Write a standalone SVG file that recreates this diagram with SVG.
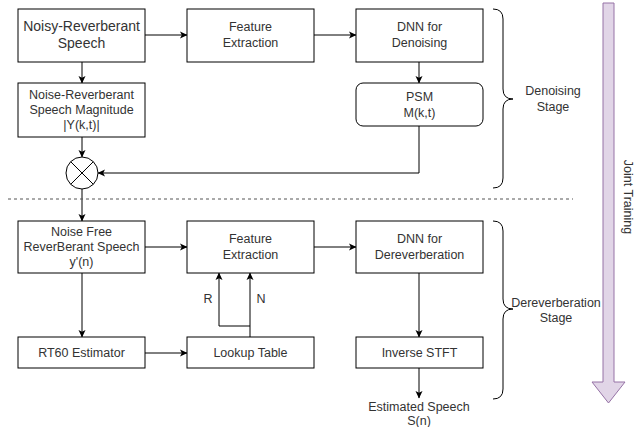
<svg xmlns="http://www.w3.org/2000/svg" width="643" height="427" viewBox="0 0 643 427">
<defs>
<marker id="arr" markerWidth="8" markerHeight="8" refX="7" refY="4" orient="auto" markerUnits="userSpaceOnUse">
<path d="M0,0.5 L7.5,4 L0,7.5 L1.8,4 Z" fill="#000"/>
</marker>
<style>
.box{fill:#fff;stroke:#000;stroke-width:1}
.t{font-family:"Liberation Sans",Arial,sans-serif;font-size:12.5px;fill:#333;text-anchor:middle}
.big{font-size:14px}
.c{fill:none;stroke:#000;stroke-width:1}
.ca{fill:none;stroke:#000;stroke-width:1;marker-end:url(#arr)}
</style>
</defs>
<rect width="643" height="427" fill="#fff"/>

<g id="connectors">
<path class="ca" d="M145,35 L187,35"/>
<path class="ca" d="M314,35 L356,35"/>
<path class="ca" d="M82,62 L82,83"/>
<path class="ca" d="M419,62 L419,83"/>
<path class="ca" d="M82,137 L82,157"/>
<path class="ca" d="M419,126 L419,173 L98,173"/>
<path class="ca" d="M82,189 L82,221"/>
<path class="ca" d="M145,247 L187,247"/>
<path class="ca" d="M314,247 L356,247"/>
<path class="ca" d="M82,273 L82,337"/>
<path class="ca" d="M145,353 L187,353"/>
<path class="ca" d="M250,337 L250,273"/>
<path class="ca" d="M250,326 L219,326 L219,273"/>
<path class="ca" d="M419,273 L419,337"/>
<path class="ca" d="M419,368 L419,398"/>
<text class="t" x="208" y="303">R</text>
<text class="t" x="261" y="303">N</text>
</g>

<g id="divider">
<line x1="8" y1="199" x2="573" y2="199" stroke="#555" stroke-width="1" stroke-dasharray="3,3"/>
</g>

<g id="noisy">
<rect class="box" x="18" y="9" width="127" height="53"/>
<text class="t big" x="81.5" y="31">Noisy-Reverberant</text>
<text class="t big" x="81.5" y="48">Speech</text>
</g>

<g id="fe1">
<rect class="box" x="187" y="9" width="127" height="53"/>
<text class="t" x="250.5" y="31">Feature</text>
<text class="t" x="250.5" y="47">Extraction</text>
</g>

<g id="dnn1">
<rect class="box" x="356" y="9" width="127" height="53"/>
<text class="t" x="419.5" y="31">DNN for</text>
<text class="t" x="419.5" y="47">Denoising</text>
</g>

<g id="mag">
<rect class="box" x="18" y="83" width="127" height="54"/>
<text class="t" x="81.5" y="99">Noise-Reverberant</text>
<text class="t" x="81.5" y="114">Speech Magnitude</text>
<text class="t" x="81.5" y="129">|Y(k,t)|</text>
</g>

<g id="psm">
<rect class="box" x="356" y="83" width="127" height="43" rx="7" ry="7"/>
<text class="t" x="419.5" y="101">PSM</text>
<text class="t" x="419.5" y="117">M(k,t)</text>
</g>

<g id="mult">
<circle cx="82" cy="173" r="16" fill="#fff" stroke="#000" stroke-width="1"/>
<path class="c" d="M70.7,161.7 L93.3,184.3 M93.3,161.7 L70.7,184.3"/>
</g>

<g id="denoisingStage">
<path class="c" d="M493,9 Q503,9 503,19 L503,89 Q503,99 513,99 Q503,99 503,109 L503,178 Q503,188 493,188"/>
<text class="t" x="553" y="95">Denoising</text>
<text class="t" x="553" y="111">Stage</text>
</g>

<g id="noisefree">
<rect class="box" x="18" y="221" width="127" height="52"/>
<text class="t" x="81.5" y="236">Noise Free</text>
<text class="t" x="81.5" y="251">ReverBerant Speech</text>
<text class="t" x="81.5" y="266">y'(n)</text>
</g>

<g id="fe2">
<rect class="box" x="187" y="221" width="127" height="52"/>
<text class="t" x="250.5" y="243">Feature</text>
<text class="t" x="250.5" y="259">Extraction</text>
</g>

<g id="dnn2">
<rect class="box" x="356" y="221" width="127" height="52"/>
<text class="t" x="419.5" y="243">DNN for</text>
<text class="t" x="419.5" y="259">Dereverberation</text>
</g>

<g id="rt60">
<rect class="box" x="18" y="337" width="127" height="31"/>
<text class="t" x="81.5" y="357">RT60 Estimator</text>
</g>

<g id="lookup">
<rect class="box" x="187" y="337" width="127" height="31"/>
<text class="t" x="250.5" y="357">Lookup Table</text>
</g>

<g id="istft">
<rect class="box" x="356" y="337" width="127" height="31"/>
<text class="t" x="419.5" y="357">Inverse STFT</text>
</g>

<g id="output">
<text class="t" x="419" y="411">Estimated Speech</text>
<text class="t" x="419" y="425">S(n)</text>
</g>

<g id="dereverbStage">
<path class="c" d="M493,221 Q503,221 503,231 L503,299 Q503,309 513,309 Q503,309 503,319 L503,389 Q503,399 493,399"/>
<text class="t" x="556" y="307">Dereverberation</text>
<text class="t" x="556" y="322">Stage</text>
</g>

<g id="joint">
<path d="M603,3 L614,3 L614,382 L625,382 L608.5,403 L592,382 L603,382 Z" fill="#e1d5e7" stroke="#9673a6" stroke-width="1"/>
<text class="t" transform="translate(624,197) rotate(90)" x="0" y="0">Joint Training</text>
</g>
</svg>
